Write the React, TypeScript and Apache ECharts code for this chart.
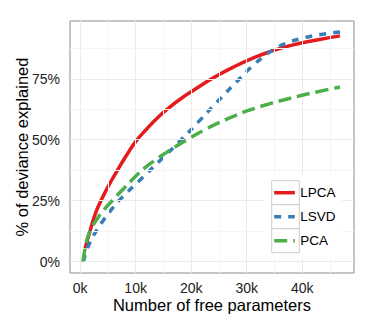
import React, { useEffect, useRef } from "react";
import * as echarts from "echarts";

// ---- data (x = number of free parameters, y = % of deviance explained) ----
const lpcaX = [900, 1900, 2500, 3300, 5000, 6500, 8300, 10100, 12000, 14000, 16000, 18000, 20700, 24000, 27600, 31000, 34200, 38000, 42600, 46800];
const lpcaY = [5.5, 13.5, 18, 22.8, 30.6, 36.6, 43.4, 49.5, 54.4, 59.1, 63.1, 66.6, 70.7, 75.4, 79.8, 83.4, 86.1, 88.7, 90.9, 92.6];

const lsvdX = [600, 1000, 1500, 2700, 4200, 5700, 7200, 10800, 14400, 18000, 21300, 24600, 28800, 31000, 33000, 35100, 37200, 39600, 42600, 46800];
const lsvdY = [0, 3.5, 6.5, 11.8, 17, 21.5, 25.5, 33.5, 41.5, 49.5, 57.3, 65.3, 75.2, 80.2, 84, 87.3, 89.6, 91.4, 92.9, 94.2];

const pcaX = [500, 900, 1300, 2000, 3000, 4200, 6000, 8000, 10000, 11700, 13500, 15500, 17500, 19800, 22800, 25000, 27600, 30600, 34200, 36600, 39600, 42600, 46800];
const pcaY = [0, 5.5, 9.5, 13.5, 17.3, 21, 25.5, 30.3, 35, 38.5, 41.6, 44.7, 47.6, 50.7, 54.5, 57, 59.6, 62.2, 64.8, 66.3, 68, 69.6, 71.6];

const seriesNames = ["LPCA", "LSVD", "PCA"];
const xTicks = [0, 10000, 20000, 30000, 40000];
const xMinor = [5000, 15000, 25000, 35000, 45000];
const yTicks = [0, 25, 50, 75];
const yMinor = [12.5, 37.5, 62.5, 87.5];

const COLORS = ["#E41A1C", "#377EB8", "#4DAF4A"];
const DASHES: (string | number[])[] = ["solid", [7, 7], [13, 6]];
const FONT = "'Liberation Sans', Arial, Helvetica, sans-serif";

function zip(xs: number[], ys: number[]) {
  return xs.map((x, i) => [x, ys[i]]);
}

export default function App() {
  const ref = useRef<HTMLDivElement>(null);
  useEffect(() => {
    if (!ref.current) return;
    const chart = echarts.init(ref.current, undefined, { renderer: "svg" });
    const majorStyle = { color: "#ebebeb", width: 1, type: "solid" as const };
    const minorStyle = { color: "#f5f5f5", width: 1, type: "solid" as const };
    const gridLines = [
      ...xMinor.map((v) => ({ xAxis: v, lineStyle: minorStyle })),
      ...yMinor.map((v) => ({ yAxis: v, lineStyle: minorStyle })),
      ...xTicks.map((v) => ({ xAxis: v, lineStyle: majorStyle })),
      ...yTicks.map((v) => ({ yAxis: v, lineStyle: majorStyle })),
    ];
    const datasets = [zip(lpcaX, lpcaY), zip(lsvdX, lsvdY), zip(pcaX, pcaY)];

    // legend (ggplot-style keys)
    const keyX = 271.7, keyY = 180.7, keyW = 27.6, keyH = 24;
    const legendEls: any[] = [
      { type: "rect", z: 100, shape: { x: 265, y: 174.5, width: 77, height: 83 }, style: { fill: "#ffffff" } },
    ];
    seriesNames.forEach((name, i) => {
      const y0 = keyY + i * keyH;
      legendEls.push({ type: "rect", z: 101, shape: { x: keyX, y: y0, width: keyW, height: keyH }, style: { fill: "#ffffff", stroke: "#cccccc", lineWidth: 1 } });
      legendEls.push({
        type: "line", z: 102,
        shape: { x1: keyX + 2.5, y1: y0 + keyH / 2, x2: keyX + keyW - 4.5, y2: y0 + keyH / 2 },
        style: { stroke: COLORS[i], lineWidth: 3.5, lineDash: DASHES[i] === "solid" ? null : DASHES[i], lineCap: "butt" },
      });
      legendEls.push({
        type: "text", z: 102, x: keyX + keyW + 1, y: y0 + keyH / 2,
        style: { text: name, fontSize: 13.5, fontFamily: FONT, fill: "#000", verticalAlign: "middle", align: "left" },
      });
    });

    chart.setOption({
      animation: false,
      textStyle: { fontFamily: FONT },
      grid: {
        left: 70, right: 21, top: 21, bottom: 52,
        show: true, borderColor: "#8c8c8c", borderWidth: 1, backgroundColor: "transparent",
        containLabel: false, outerBoundsMode: "none",
      },
      xAxis: {
        type: "value", min: -1825, max: 49325,
        name: "Number of free parameters", nameLocation: "middle", nameGap: 23,
        nameMoveOverlap: false,
        nameTextStyle: { fontSize: 16.5, color: "#000", fontFamily: FONT },
        axisLine: { show: false },
        axisTick: { show: true, length: 5, customValues: xTicks, lineStyle: { color: "#333", width: 1 } },
        axisLabel: { customValues: xTicks, margin: 8, fontSize: 14, color: "#222", fontFamily: FONT, formatter: (v: number) => `${v / 1000}k` },
        splitLine: { show: false },
      },
      yAxis: {
        type: "value", min: -4.7, max: 98.7,
        name: "% of deviance explained", nameLocation: "middle", nameGap: 40,
        nameMoveOverlap: false,
        nameTextStyle: { fontSize: 16.5, color: "#000", fontFamily: FONT },
        axisLine: { show: false },
        axisTick: { show: true, length: 5, customValues: yTicks, lineStyle: { color: "#333", width: 1 } },
        axisLabel: { customValues: yTicks, margin: 10, fontSize: 14, color: "#222", fontFamily: FONT, formatter: (v: number) => `${v}%` },
        splitLine: { show: false },
      },
      series: [
        {
          type: "line", name: "grid", data: [], z: 1, silent: true,
          markLine: { silent: true, symbol: ["none", "none"], label: { show: false }, animation: false, data: gridLines },
        },
        ...seriesNames.map((name, i) => ({
          type: "line", name, z: 3 + i, data: datasets[i],
          showSymbol: false, symbol: "none", smooth: 0.5,
          lineStyle: { color: COLORS[i], width: 3.5, type: DASHES[i], cap: "butt", join: "round" },
          itemStyle: { color: COLORS[i] },
        })),
      ],
      graphic: legendEls,
    });
    return () => chart.dispose();
  }, []);
  return <div ref={ref} style={{ position: "absolute", left: 0, top: 0, width: 375, height: 325 }} />;
}
